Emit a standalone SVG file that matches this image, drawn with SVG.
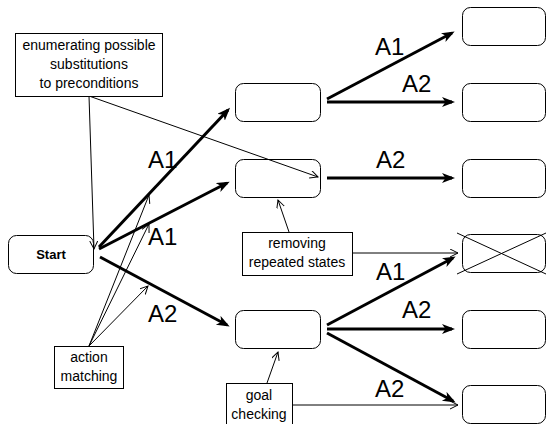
<svg xmlns="http://www.w3.org/2000/svg" width="547" height="424" viewBox="0 0 547 424">
  <style>
    .state { fill: #ffffff; stroke: #000000; stroke-width: 1; }
    .note { fill: #ffffff; stroke: #000000; stroke-width: 1; }
    .txt { font-family: "Liberation Sans", Arial, sans-serif; font-size: 14px; fill: #000000; text-anchor: middle; }
    .start { font-family: "Liberation Sans", Arial, sans-serif; font-size: 13px; font-weight: bold; fill: #000000; text-anchor: middle; }
    .act { font-family: "Liberation Sans", Arial, sans-serif; font-size: 24px; fill: #000000; }
    .thick { stroke: #000000; stroke-width: 3; fill: none; marker-end: url(#bigArrow); }
    .thin { stroke: #000000; stroke-width: 1; fill: none; marker-end: url(#smallArrow); }
    .plain { stroke: #000000; stroke-width: 1; fill: none; }
  </style>
  <defs>
    <marker id="bigArrow" markerUnits="userSpaceOnUse" markerWidth="14" markerHeight="12" refX="10" refY="5" orient="auto">
      <path d="M0,0 L13,5 L0,10 L3.5,5 Z" fill="#000000"/>
    </marker>
    <marker id="smallArrow" markerUnits="userSpaceOnUse" markerWidth="10" markerHeight="10" refX="8" refY="4" orient="auto">
      <path d="M0,0 L8,4 L0,8" fill="none" stroke="#000000" stroke-width="1"/>
    </marker>
  </defs>

  <!-- states -->
  <g id="start"><rect class="state" x="8.5" y="235.5" width="85" height="38" rx="8"/><text class="start" x="51" y="259">Start</text></g>
  <g id="mid1"><rect class="state" x="235.5" y="83.5" width="85" height="38" rx="8"/></g>
  <g id="mid2"><rect class="state" x="235.5" y="159.5" width="85" height="38" rx="8"/></g>
  <g id="mid3"><rect class="state" x="235.5" y="310.5" width="85" height="38" rx="8"/></g>
  <g id="leaf1"><rect class="state" x="462.5" y="7.5" width="83" height="38" rx="8"/></g>
  <g id="leaf2"><rect class="state" x="462.5" y="83.5" width="83" height="38" rx="8"/></g>
  <g id="leaf3"><rect class="state" x="462.5" y="159.5" width="83" height="38" rx="8"/></g>
  <g id="leaf4">
    <rect class="state" x="462.5" y="234.5" width="83" height="38" rx="8"/>
    <path class="plain" d="M457,233 L546,274 M457,274 L546,233"/>
  </g>
  <g id="leaf5"><rect class="state" x="462.5" y="310.5" width="83" height="38" rx="8"/></g>
  <g id="leaf6"><rect class="state" x="462.5" y="385.5" width="83" height="38" rx="8"/></g>

  <!-- connectors -->
  <g id="connectors">
    <path class="thick" d="M99,247 L228,110"/>
    <path class="thick" d="M99,249 L227,183"/>
    <path class="thick" d="M100,257 L227,325"/>
    <path class="thick" d="M327,99 L452,33"/>
    <path class="thick" d="M327,102 L452,102"/>
    <path class="thick" d="M327,178 L452,178"/>
    <path class="thick" d="M327,325 L453,258"/>
    <path class="thick" d="M327,329 L452,329"/>
    <path class="thick" d="M327,333 L453,401"/>

    <path class="thin" d="M89,96 L94,249"/>
    <path class="thin" d="M89,96 L318,177"/>
    <path class="thin" d="M89,346 L149,195"/>
    <path class="thin" d="M89,346 L149,224"/>
    <path class="thin" d="M89,346 L148,286"/>
    <path class="thin" d="M289,232 L278,200"/>
    <path class="thin" d="M352,253 L458,253"/>
    <path class="thin" d="M267,383 L278,352"/>
    <path class="thin" d="M292,405 L458,405"/>
  </g>

  <!-- action labels -->
  <g id="labels">
    <text class="act" x="148" y="168">A1</text>
    <text class="act" x="148" y="245">A1</text>
    <text class="act" x="148" y="322">A2</text>
    <text class="act" x="375" y="55">A1</text>
    <text class="act" x="402" y="92">A2</text>
    <text class="act" x="376" y="168">A2</text>
    <text class="act" x="376" y="280">A1</text>
    <text class="act" x="402" y="318">A2</text>
    <text class="act" x="375" y="397">A2</text>
  </g>

  <!-- annotation boxes -->
  <g id="enumerating">
    <rect class="note" x="15.5" y="33.5" width="147" height="63"/>
    <text class="txt" x="89" y="50">enumerating possible</text>
    <text class="txt" x="89" y="69">substitutions</text>
    <text class="txt" x="89" y="88">to preconditions</text>
  </g>
  <g id="removing">
    <rect class="note" x="242.5" y="232.5" width="110" height="43"/>
    <text class="txt" x="297" y="248">removing</text>
    <text class="txt" x="297" y="267">repeated states</text>
  </g>
  <g id="matching">
    <rect class="note" x="54.5" y="346.5" width="69" height="42"/>
    <text class="txt" x="89" y="362">action</text>
    <text class="txt" x="89" y="381">matching</text>
  </g>
  <g id="goal">
    <rect class="note" x="226.5" y="383.5" width="66" height="42"/>
    <text class="txt" x="259" y="400">goal</text>
    <text class="txt" x="259" y="419">checking</text>
  </g>
</svg>
